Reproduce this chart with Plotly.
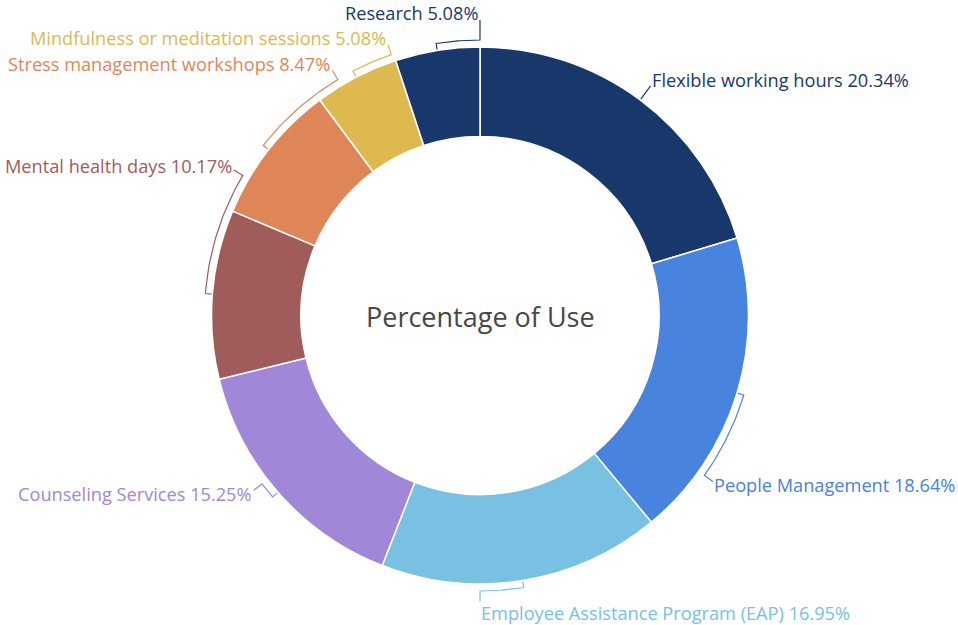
import math
import plotly.graph_objects as go

# Survey data: number of responses per support measure
categories = [
    "Flexible working hours",
    "People Management",
    "Employee Assistance Program (EAP)",
    "Counseling Services",
    "Mental health days",
    "Stress management workshops",
    "Mindfulness or meditation sessions",
    "Research",
]
responses = [12, 11, 10, 9, 6, 5, 3, 3]
center_title = "Percentage of Use"

# Styling
colors = ["#18386c", "#4883de", "#78c1e2", "#a087d8",
          "#a05c5b", "#df8659", "#ddb94f", "#18386c"]
FONT = "'Open Sans', Lato, sans-serif"
LABEL_SIZE = 18.2
TITLE_SIZE = 27
LINE_GAP = 25    # minimum vertical distance between label centres

# Canvas / ring geometry (pixels, y grows downward)
W, H = 958, 625
CX, CY, R = 480.0, 315.5, 268.5
HOLE = 0.667
ARC_GAP = 7      # distance of bracket arc from outer edge
TAIL = 10.5      # radial tail from bracket arc to the label
# how far (deg) each label is rotated away from its slice centre
label_shift = [0, 18.7, 9.15, 3.5, 26, 20.8, 8.7, 9.15]

total = sum(responses)
pcts = [v / total * 100 for v in responses]


def pt(r, deg):
    t = math.radians(deg)
    return CX + r * math.sin(t), CY - r * math.cos(t)


fig = go.Figure()
fig.add_trace(go.Pie(
    labels=categories,
    values=responses,
    hole=HOLE,
    sort=False,
    direction="clockwise",
    rotation=0,
    marker=dict(colors=colors, line=dict(color="white", width=1.5)),
    textinfo="none",
    hoverinfo="label+percent",
    showlegend=False,
    domain=dict(x=[(CX - R) / W, (CX + R) / W],
                y=[(H - CY - R) / H, (H - CY + R) / H]),
))

# first pass: geometry of each bracket and the preferred label spot
items = []
cum = 0
for i, v in enumerate(responses):
    mid = (cum + v / 2) / total * 360
    cum += v
    a = mid + label_shift[i]
    ex, ey = pt(R + ARC_GAP + TAIL, a)
    c = math.cos(math.radians(a))
    dy = -7.5 * c if c > 0 else 11 * c * c
    items.append(dict(i=i, mid=mid, a=a, ex=ex, ey=ey, dy=dy, ty=ey + dy,
                      right=math.sin(math.radians(mid)) >= 0))

# keep labels on the same side from stacking on top of each other
for side in (True, False):
    group = sorted([it for it in items if it["right"] == side],
                   key=lambda it: it["ty"], reverse=True)
    for below, above in zip(group, group[1:]):
        if below["ty"] - above["ty"] < LINE_GAP:
            above["ty"] = below["ty"] - LINE_GAP

annotations = []
for it in items:
    i, mid, a = it["i"], it["mid"], it["a"]
    ra = R + ARC_GAP
    xs, ys = [], []
    for r, d in [(R + 0.5, mid), (ra, mid)]:
        x, y = pt(r, d)
        xs.append(x); ys.append(y)
    n = 24
    for k in range(1, n + 1):
        x, y = pt(ra, mid + (a - mid) * k / n)
        xs.append(x); ys.append(y)
    ex = it["ex"]
    ey = it["ty"] - it["dy"]
    xs.append(ex); ys.append(ey)
    fig.add_trace(go.Scatter(
        x=xs, y=ys, mode="lines",
        line=dict(color=colors[i], width=1.2),
        hoverinfo="skip", showlegend=False,
    ))
    right = it["right"]
    annotations.append(dict(
        x=ex + (-1 if right else 0),
        y=it["ty"],
        xref="x", yref="y",
        text=f"{categories[i]} {pcts[i]:.2f}%",
        showarrow=False,
        xanchor="left" if right else "right",
        yanchor="middle",
        font=dict(family=FONT, size=LABEL_SIZE, color=colors[i]),
    ))

annotations.append(dict(
    x=CX, y=CY + 1, xref="x", yref="y",
    text=center_title, showarrow=False,
    xanchor="center", yanchor="middle",
    font=dict(family=FONT, size=TITLE_SIZE, color="#474747"),
))

fig.update_layout(
    width=W, height=H,
    margin=dict(l=0, r=0, t=0, b=0),
    paper_bgcolor="white", plot_bgcolor="white",
    xaxis=dict(range=[0, W], visible=False, fixedrange=True),
    yaxis=dict(range=[H, 0], visible=False, fixedrange=True),
    annotations=annotations,
    showlegend=False,
)

fig.write_html("out.html")
